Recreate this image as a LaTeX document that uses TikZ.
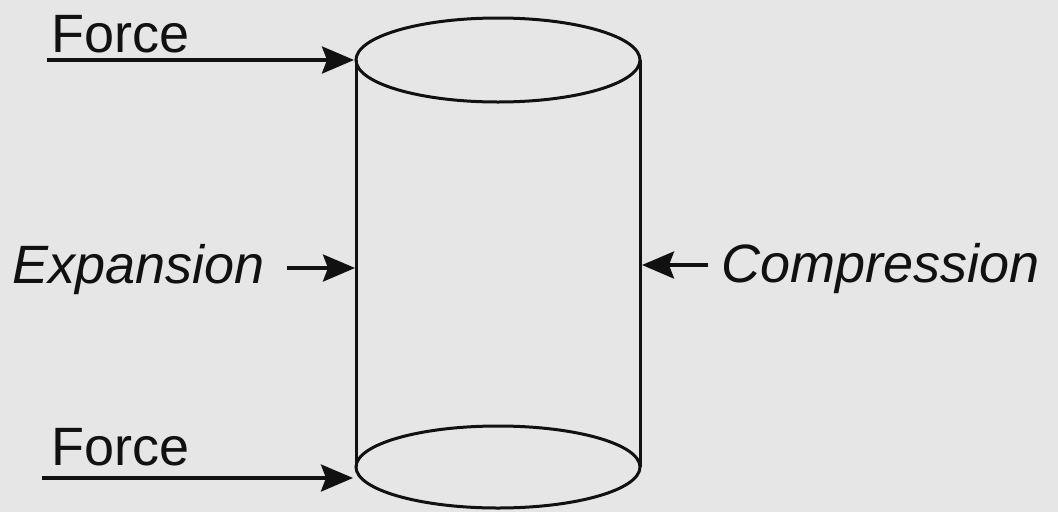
\documentclass[tikz,border=0pt]{standalone}
\usepackage{fontspec}
\setmainfont{Liberation Sans}
\usetikzlibrary{arrows.meta}
\definecolor{bg}{HTML}{E6E6E6}
\definecolor{ink}{HTML}{111111}
\begin{document}
\begin{tikzpicture}[x=1pt,y=-1pt,
  lbl/.style={inner sep=0pt, anchor=base west, text=ink, font=\fontsize{54}{60}\selectfont},
  ilbl/.style={lbl, font=\fontsize{54}{60}\selectfont\itshape},
  body/.style={draw=ink, line width=3pt},
  force/.style={draw=ink, line width=3.5pt, -{Stealth[length=32pt,width=27pt,inset=5pt]}}]
\fill[bg] (0,0) rectangle (1058,512);
\useasboundingbox (0,0) rectangle (1058,512);
% cylinder
\draw[body] (498,60) ellipse [x radius=142, y radius=42];
\draw[body] (498,467) ellipse [x radius=142, y radius=41];
\coordinate (tl) at (356,60);
\coordinate (bl) at (356,467);
\coordinate (tr) at (640,60);
\coordinate (br) at (640,467);
\draw[body] (tl) -- (bl);
\draw[body] (tr) -- (br);
% labels
\node[lbl] (f1) at (51,52) {Force};
\node[lbl] (f2) at (51,465) {Force};
\node[ilbl] (ex) at (12,283) {Expansion};
\node[ilbl] (co) at (721,282) {Compression};
% arrow ends
\coordinate (f1s) at (47,60);
\coordinate (f1e) at (354,60);
\coordinate (f2s) at (42,478);
\coordinate (f2e) at (353,478);
\coordinate (exs) at (287,268);
\coordinate (exe) at (355,268);
\coordinate (cos) at (708,265);
\coordinate (coe) at (642,265);
\draw[force] (f1s) -- (f1e);
\draw[force] (f2s) -- (f2e);
\draw[force] (exs) -- (exe);
\draw[force] (cos) -- (coe);
\end{tikzpicture}
\end{document}
